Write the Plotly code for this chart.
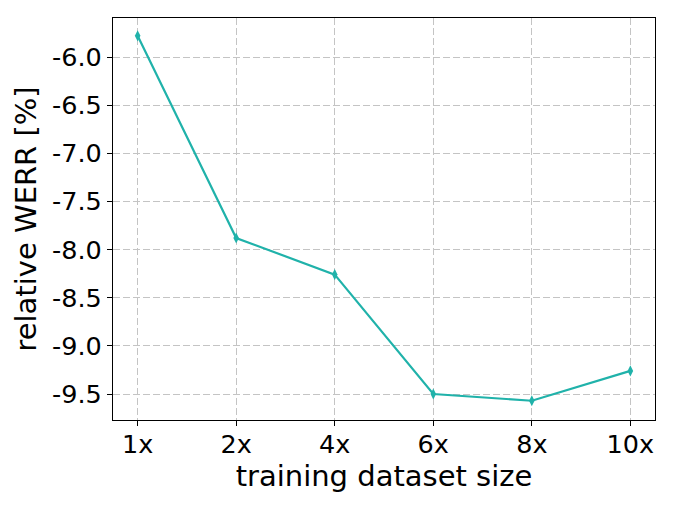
import plotly.graph_objects as go

categories = ["1x", "2x", "4x", "6x", "8x", "10x"]
werr = [-5.78, -7.88, -8.26, -9.50, -9.57, -9.26]
y_ticks = [-6.0, -6.5, -7.0, -7.5, -8.0, -8.5, -9.0, -9.5]

xpos = list(range(len(categories)))

fig = go.Figure()
fig.add_trace(go.Scatter(
    x=xpos, y=werr, mode="lines+markers",
    line=dict(color="#20B2AA", width=2.2),
    marker=dict(symbol="diamond-tall", size=8, color="#20B2AA"),
    showlegend=False,
))

axis_common = dict(
    showline=True, linecolor="black", linewidth=1.2, mirror=True,
    ticks="outside", ticklen=5, tickwidth=1.2, tickcolor="black",
    showgrid=True, gridcolor="#c4c4c4", griddash="7px,3px", gridwidth=1.3,
    zeroline=False,
    tickfont=dict(family="DejaVu Sans", size=25.5, color="black"),
)

fig.update_xaxes(
    **axis_common,
    tickmode="array", tickvals=xpos, ticktext=categories,
    range=[-0.25, 5.25],
    ticklabelstandoff=-4,
    title=dict(text="training dataset size", font=dict(family="DejaVu Sans", size=29, color="black"), standoff=6),
)
fig.update_yaxes(
    **axis_common,
    tickmode="array", tickvals=y_ticks, ticktext=[f"{v:.1f}" for v in y_ticks],
    range=[-9.77, -5.595],
    title=dict(text="relative WERR [%]", font=dict(family="DejaVu Sans", size=29, color="black"), standoff=6),
)

fig.update_layout(
    width=675, height=507,
    margin=dict(l=105, r=28, t=10, b=95),
    plot_bgcolor="white", paper_bgcolor="white",
    font=dict(family="DejaVu Sans", color="black"),
)

fig.write_html("out.html")
